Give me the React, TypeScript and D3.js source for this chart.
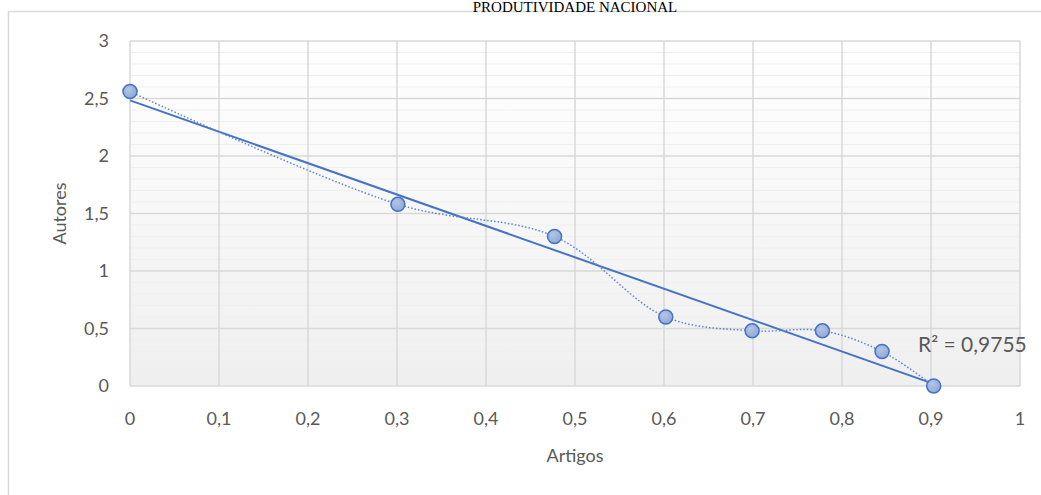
import React, { useEffect, useRef } from 'react';
import * as d3 from 'd3';

// x = artigos, y = autores (log values)
const artigos = [0, 0.301, 0.477, 0.602, 0.699, 0.778, 0.845, 0.903];
const autores = [2.56, 1.58, 1.3, 0.6, 0.48, 0.48, 0.3, 0];
const xTicks = [0, 0.1, 0.2, 0.3, 0.4, 0.5, 0.6, 0.7, 0.8, 0.9, 1];
const yTicks = [0, 0.5, 1, 1.5, 2, 2.5, 3];
const r2Label = 'R² = 0,9755';
const title = 'PRODUTIVIDADE NACIONAL';

const W = 1041;
const H = 495;
const blue = '#4472c4';
const grid = '#d9d9d9';
const txt = '#595959';
const font = 'Lato, "Open Sans", sans-serif';

const fmt = (v: number) => String(v).replace('.', ',');

const Chart: React.FC = () => {
  const svgRef = useRef<SVGSVGElement>(null);

  useEffect(() => {
    if (!svgRef.current) return;
    const svg = d3.select(svgRef.current);
    svg.selectAll('*').remove();

    const x = d3.scaleLinear().domain([0, 1]).range([130, 1020]);
    const y = d3.scaleLinear().domain([0, 3]).range([386, 41]);

    const defs = svg.append('defs');
    const bg = defs.append('linearGradient')
      .attr('id', 'plotbg').attr('x1', 0).attr('y1', 0).attr('x2', 0).attr('y2', 1);
    bg.append('stop').attr('offset', '0%').attr('stop-color', '#ffffff');
    bg.append('stop').attr('offset', '100%').attr('stop-color', '#efefef');

    const mk = defs.append('radialGradient').attr('id', 'mk').attr('cx', '40%').attr('cy', '35%').attr('r', '70%');
    mk.append('stop').attr('offset', '0%').attr('stop-color', '#b4c5e6');
    mk.append('stop').attr('offset', '100%').attr('stop-color', '#8ea7d6');

    // chart border
    svg.append('rect')
      .attr('x', 8.5).attr('y', 11.5).attr('width', 1200).attr('height', 600)
      .attr('fill', '#fff').attr('stroke', grid).attr('stroke-width', 1.5);

    // title, sitting right on the page top
    svg.append('text')
      .attr('x', 575).attr('y', 11.5)
      .attr('text-anchor', 'middle')
      .attr('font-family', '"Liberation Serif", "Times New Roman", serif')
      .attr('font-size', 15)
      .attr('fill', '#000')
      .text(title);

    // plot background
    svg.append('rect')
      .attr('x', x(0)).attr('y', y(3))
      .attr('width', x(1) - x(0)).attr('height', y(0) - y(3))
      .attr('fill', 'url(#plotbg)');

    // minor horizontal grid
    const minor = d3.range(0, 30).map(i => i / 10).filter(v => Math.round(v * 10) % 5 !== 0);
    svg.append('g').selectAll('line').data(minor).enter().append('line')
      .attr('x1', x(0)).attr('x2', x(1))
      .attr('y1', d => y(d)).attr('y2', d => y(d))
      .attr('stroke', '#efefef').attr('stroke-width', 1.2);

    // major grid
    svg.append('g').selectAll('line').data(yTicks).enter().append('line')
      .attr('x1', x(0)).attr('x2', x(1))
      .attr('y1', d => y(d)).attr('y2', d => y(d))
      .attr('stroke', grid).attr('stroke-width', 1.5);
    svg.append('g').selectAll('line').data(xTicks).enter().append('line')
      .attr('x1', d => x(d)).attr('x2', d => x(d))
      .attr('y1', y(0)).attr('y2', y(3))
      .attr('stroke', grid).attr('stroke-width', 1.5);

    // tick labels
    svg.append('g').selectAll('text').data(yTicks).enter().append('text')
      .attr('x', 109).attr('y', d => y(d)).attr('dy', '0.35em')
      .attr('text-anchor', 'end')
      .attr('font-family', font).attr('font-size', 18).attr('fill', txt)
      .text(d => fmt(d));
    svg.append('g').selectAll('text').data(xTicks).enter().append('text')
      .attr('x', d => x(d)).attr('y', 425)
      .attr('text-anchor', 'middle')
      .attr('font-family', font).attr('font-size', 18).attr('fill', txt)
      .text(d => fmt(d));

    // axis titles
    svg.append('text')
      .attr('x', 575).attr('y', 462)
      .attr('text-anchor', 'middle')
      .attr('font-family', font).attr('font-size', 18).attr('fill', txt)
      .text('Artigos');
    svg.append('text')
      .attr('transform', `translate(66,${y(1.5)}) rotate(-90)`)
      .attr('text-anchor', 'middle')
      .attr('font-family', font).attr('font-size', 18).attr('fill', txt)
      .text('Autores');

    const pts = artigos.map((a, i) => [a, autores[i]] as [number, number]);

    // linear trendline (least squares on the series)
    const mx = d3.mean(artigos) || 0;
    const my = d3.mean(autores) || 0;
    const sxy = d3.sum(pts, p => (p[0] - mx) * (p[1] - my));
    const sxx = d3.sum(artigos, a => (a - mx) ** 2);
    const slope = sxy / sxx;
    const icpt = my - slope * mx;
    const [x0, x1] = d3.extent(artigos) as [number, number];
    svg.append('line')
      .attr('x1', x(x0)).attr('y1', y(icpt + slope * x0))
      .attr('x2', x(x1)).attr('y2', y(icpt + slope * x1))
      .attr('stroke', blue).attr('stroke-width', 2);

    // smoothed dotted series line
    const line = d3.line<[number, number]>()
      .x(d => x(d[0])).y(d => y(d[1]))
      .curve(d3.curveCatmullRom.alpha(0.5));
    svg.append('path')
      .attr('d', line(pts) || '')
      .attr('fill', 'none')
      .attr('stroke', '#5b87cf').attr('stroke-width', 1.5)
      .attr('stroke-dasharray', '1.5 2');

    // markers
    svg.append('g').selectAll('circle').data(pts).enter().append('circle')
      .attr('cx', d => x(d[0])).attr('cy', d => y(d[1]))
      .attr('r', 7)
      .attr('fill', 'url(#mk)')
      .attr('stroke', blue).attr('stroke-width', 1.5);

    // R² label
    svg.append('text')
      .attr('x', 918).attr('y', 352)
      .attr('font-family', font).attr('font-size', 21).attr('fill', txt)
      .text(r2Label);
  }, []);

  return <svg ref={svgRef} width={W} height={H} style={{ position: 'absolute', left: 0, top: 0 }} />;
};

export default function App() {
  return <Chart />;
}
